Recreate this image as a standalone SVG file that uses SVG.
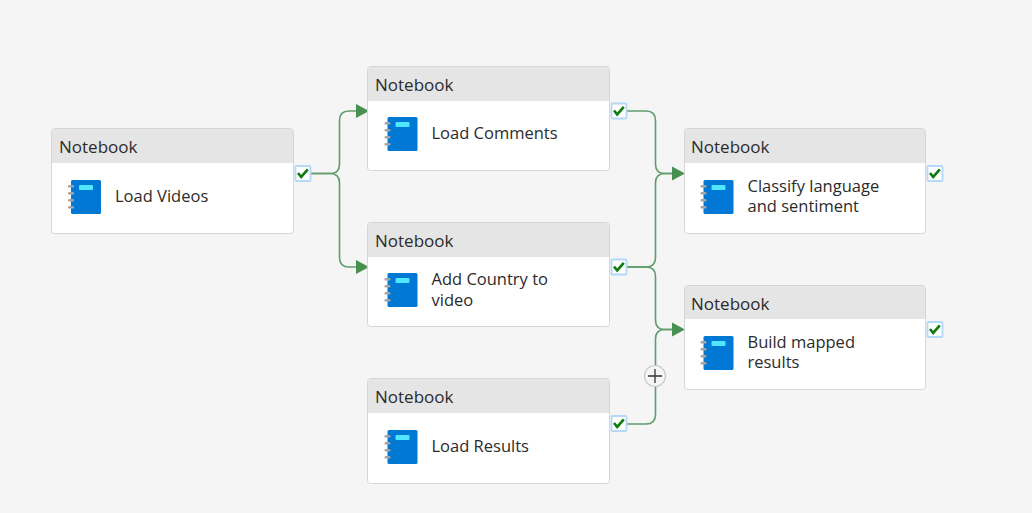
<svg xmlns="http://www.w3.org/2000/svg" width="1032" height="513" viewBox="0 0 1032 513">
<style>
.card{fill:#fff;stroke:#d6d6d6;stroke-width:1}
.head{fill:#e5e5e5}
.t{font-family:"Open Sans","Noto Sans","Liberation Sans",sans-serif;font-size:16.500px;fill:#2b2b2b}
.h{font-family:"Open Sans","Noto Sans","Liberation Sans",sans-serif;font-size:17px;fill:#2b2b2b}
.c{fill:none;stroke:#5f9c6c;stroke-width:1.6}
.ah{fill:#47904f}
.ck{fill:#fff;stroke:#b4d8f7;stroke-width:1.8}
.tick{fill:none;stroke:#107c10;stroke-width:2.6}
</style>
<defs>
<g id="book">
<rect x="3" y="0" width="30" height="34" rx="1.5" fill="#0078d4"/>
<rect x="11" y="5" width="14" height="5" rx="1" fill="#50e6ff"/>
<g fill="#a5a5a5"><rect x="0" y="5" width="6" height="2.600" rx="1.200"/><rect x="0" y="12" width="6" height="2.600" rx="1.200"/><rect x="0" y="19" width="6" height="2.600" rx="1.200"/><rect x="0" y="26" width="6" height="2.600" rx="1.200"/></g>
</g>
<g id="check">
<rect x="-7.500" y="-7.500" width="15" height="15" rx="1" class="ck"/>
<path d="M-5-.5L-1.800 3.400L4.800-4.200" class="tick"/>
</g>
</defs>
<rect width="1032" height="513" fill="#f5f5f5"/>
<g id="connectors">
<path class="c" d="M311 173.500H330Q339.500 173.500 339.500 164V120.500Q339.500 111 349 111H358"/>
<path class="c" d="M311 173.500H330Q339.500 173.500 339.500 183V257.500Q339.500 267 349 267H358"/>
<path class="c" d="M627 111H646Q655.500 111 655.500 120.500V164Q655.500 173.500 665 173.500H674"/>
<path class="c" d="M627 267H646Q655.500 267 655.500 257.500V183Q655.500 173.500 665 173.500H674"/>
<path class="c" d="M627 267H646Q655.500 267 655.500 276.500V320Q655.500 329.500 665 329.500H674"/>
<path class="c" d="M627 424H646Q655.500 424 655.500 414.500V339Q655.500 329.500 665 329.500H674"/>
<path class="ah" d="M356 104L369 111L356 118Z"/>
<path class="ah" d="M356 260L369 267L356 274Z"/>
<path class="ah" d="M672 166.500L685 173.500L672 180.500Z"/>
<path class="ah" d="M672 322.500L685 329.500L672 336.500Z"/>
</g>
<g id="plus">
<circle cx="655" cy="376" r="10.500" fill="#f5f5f5" stroke="#c8c8c8" stroke-width="1.200"/>
<path d="M648 376H662M655 369V383" stroke="#333" stroke-width="1.300" fill="none"/>
</g>
<g id="node-load-videos">
<rect class="card" x="51.500" y="128.500" width="242" height="105" rx="3"/>
<path class="head" d="M52 132a3 3 0 0 1 3-3H290a3 3 0 0 1 3 3V163H52Z"/>
<text class="h" x="59" y="152.500">Notebook</text>
<use href="#book" x="68" y="180"/>
<text class="t" x="115" y="202">Load Videos</text>
<use href="#check" x="303" y="173.500"/>
</g>
<g id="node-load-comments">
<rect class="card" x="367.500" y="66.500" width="242" height="104" rx="3"/>
<path class="head" d="M368 70a3 3 0 0 1 3-3H606a3 3 0 0 1 3 3V101H368Z"/>
<text class="h" x="375" y="90.500">Notebook</text>
<use href="#book" x="384.500" y="117"/>
<text class="t" x="431.500" y="139">Load Comments</text>
<use href="#check" x="619" y="111"/>
</g>
<g id="node-add-country">
<rect class="card" x="367.500" y="222.500" width="242" height="104" rx="3"/>
<path class="head" d="M368 226a3 3 0 0 1 3-3H606a3 3 0 0 1 3 3V257H368Z"/>
<text class="h" x="375" y="246.500">Notebook</text>
<use href="#book" x="384.500" y="273"/>
<text class="t" x="431.500" y="285">Add Country to</text>
<text class="t" x="431.500" y="306">video</text>
<use href="#check" x="619" y="267"/>
</g>
<g id="node-load-results">
<rect class="card" x="367.500" y="378.500" width="242" height="105" rx="3"/>
<path class="head" d="M368 382a3 3 0 0 1 3-3H606a3 3 0 0 1 3 3V413H368Z"/>
<text class="h" x="375" y="402.500">Notebook</text>
<use href="#book" x="384.500" y="430"/>
<text class="t" x="431.500" y="452">Load Results</text>
<use href="#check" x="619" y="423.500"/>
</g>
<g id="node-classify">
<rect class="card" x="684.500" y="128.500" width="241" height="105" rx="3"/>
<path class="head" d="M685 132a3 3 0 0 1 3-3H922a3 3 0 0 1 3 3V163H685Z"/>
<text class="h" x="691" y="152.500">Notebook</text>
<use href="#book" x="700.500" y="180"/>
<text class="t" x="747.500" y="192">Classify language</text>
<text class="t" x="747.500" y="212">and sentiment</text>
<use href="#check" x="935" y="173.500"/>
</g>
<g id="node-build-mapped">
<rect class="card" x="684.500" y="285.500" width="241" height="104" rx="3"/>
<path class="head" d="M685 289a3 3 0 0 1 3-3H922a3 3 0 0 1 3 3V319H685Z"/>
<text class="h" x="691" y="309.500">Notebook</text>
<use href="#book" x="700.500" y="336"/>
<text class="t" x="747.500" y="348">Build mapped</text>
<text class="t" x="747.500" y="368">results</text>
<use href="#check" x="935" y="329.500"/>
</g>
</svg>
